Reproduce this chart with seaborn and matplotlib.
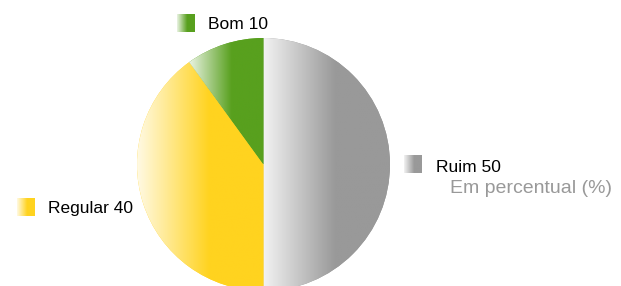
import numpy as np
import matplotlib
matplotlib.use('Agg')
import matplotlib.pyplot as plt
import seaborn as sns
from matplotlib.colors import to_rgb

# Data
categories = ['Ruim', 'Regular', 'Bom']
values = [50, 40, 10]
colors = ['#999999', '#ffd31f', '#58a01e']
unit_note = 'Em percentual (%)'

sns.set_theme(style='white')
plt.rcParams['font.family'] = ['Liberation Sans', 'DejaVu Sans']

W, H = 621, 286


def gradient(color, n=256, stop=0.57):
    # light on the left, full colour from `stop` onwards
    c = np.array(to_rgb(color))
    light = c + (1 - c) * 0.88
    t = np.clip(np.linspace(0, 1, n) / stop, 0, 1)
    return (light[None, :] * (1 - t[:, None]) + c[None, :] * t[:, None])[None, :, :]


fig = plt.figure(figsize=(W / 100, H / 100), dpi=100)
ax = fig.add_axes([0, 0, 1, 1])

wedges, _ = ax.pie(values,
                   colors=colors,
                   startangle=90,
                   counterclock=False,
                   center=(263.5, H - 164.5),
                   radius=126.5,
                   wedgeprops=dict(linewidth=0))

# Horizontal gradient fill for each slice
for w, c in zip(wedges, colors):
    bb = w.get_path().get_extents()
    ax.imshow(gradient(c), extent=(bb.x0, bb.x1, bb.y0, bb.y1),
              aspect='auto', clip_path=w, zorder=2, interpolation='bilinear')

# Labels with gradient swatches
swatches = {'Ruim': (404, 155), 'Regular': (17, 198), 'Bom': (177, 14)}
text_pos = {'Ruim': (436, 171.7), 'Regular': (48, 212.7), 'Bom': (208, 29)}
for cat, val, c in zip(categories, values, colors):
    sx, sy = swatches[cat]
    ax.imshow(gradient(c), extent=(sx, sx + 18, H - sy - 18, H - sy),
              aspect='auto', zorder=3, interpolation='bilinear')
    tx, ty = text_pos[cat]
    ax.text(tx, H - ty, f'{cat} {val}', fontsize=12.5, color='#000000',
            ha='left', va='baseline', zorder=4)

ax.text(450, H - 192.7, unit_note, fontsize=14, color='#999999',
        ha='left', va='baseline', zorder=4)

ax.set_xlim(0, W)
ax.set_ylim(0, H)
ax.set_aspect('equal')
ax.axis('off')

fig.savefig('out.png', dpi=100, facecolor='white')
